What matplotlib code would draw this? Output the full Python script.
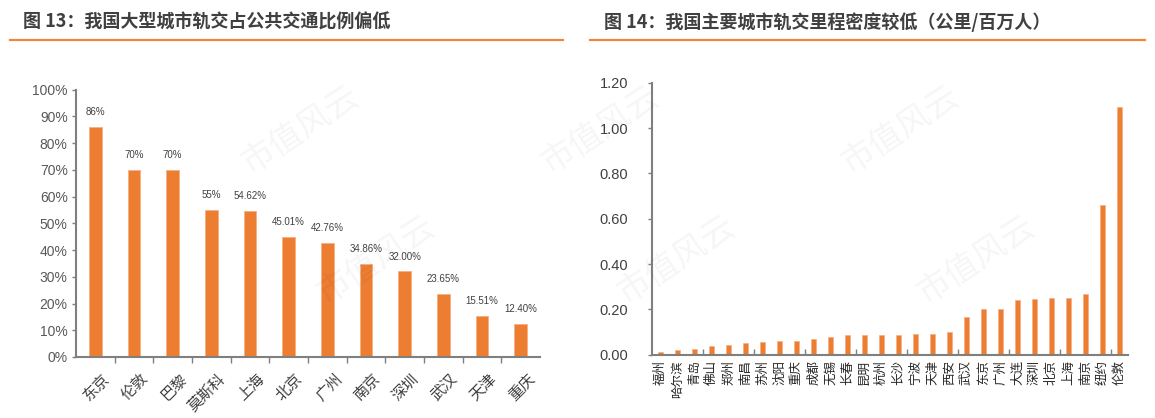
import matplotlib.pyplot as plt
from matplotlib.lines import Line2D

plt.rcParams['font.family'] = ['Liberation Sans', 'Noto Sans CJK SC', 'DejaVu Sans']

# --- data ---
share_cities = ['东京', '伦敦', '巴黎', '莫斯科', '上海', '北京', '广州', '南京', '深圳', '武汉', '天津', '重庆']
share_values = [86, 70, 70, 55, 54.62, 45.01, 42.76, 34.86, 32.00, 23.65, 15.51, 12.40]
share_labels = ['86%', '70%', '70%', '55%', '54.62%', '45.01%', '42.76%', '34.86%',
                '32.00%', '23.65%', '15.51%', '12.40%']

density_cities = ['福州', '哈尔滨', '青岛', '佛山', '郑州', '南昌', '苏州', '沈阳', '重庆', '成都',
                  '无锡', '长春', '昆明', '杭州', '长沙', '宁波', '天津', '西安', '武汉', '东京',
                  '广州', '大连', '深圳', '北京', '上海', '南京', '纽约', '伦敦']
density_values = [0.010, 0.020, 0.023, 0.039, 0.044, 0.050, 0.058, 0.061, 0.061, 0.069,
                  0.080, 0.085, 0.086, 0.086, 0.088, 0.090, 0.092, 0.100, 0.167, 0.200,
                  0.202, 0.240, 0.246, 0.252, 0.252, 0.270, 0.662, 1.094]

W, H = 1155, 418
ORANGE = '#ED7D31'
AXIS = '#7f7f7f'

fig = plt.figure(figsize=(W / 100, H / 100), dpi=100)

def px(x0, y_top, x1, y_bottom):
    return [x0 / W, 1 - y_bottom / H, (x1 - x0) / W, (y_bottom - y_top) / H]

# --- left chart ---
ax1 = fig.add_axes(px(76, 89.7, 540, 357))
x1 = range(len(share_cities))
ax1.bar(x1, share_values, width=0.32, color=ORANGE, edgecolor='#F6B083', linewidth=0.6)
for i, (v, s) in enumerate(zip(share_values, share_labels)):
    ax1.annotate(s, (i, v), xytext=(0, 7), textcoords='offset points',
                 ha='center', va='bottom', fontsize=7, color='#404040')
ax1.set_xlim(-0.5, len(share_cities) - 0.5)
ax1.set_ylim(0, 100)
ax1.set_yticks(range(0, 101, 10))
ax1.set_yticklabels([f'{v}%' for v in range(0, 101, 10)], fontsize=10, color='#595959')
ax1.set_xticks([i + 0.5 for i in range(len(share_cities) - 1)])
ax1.set_xticklabels([])
ax1.tick_params(axis='x', direction='out', length=4, color=AXIS, width=1)
ax1.tick_params(axis='y', direction='out', length=3, color=AXIS, width=1, pad=3)
for i, name in enumerate(share_cities):
    ax1.text(i + 0.15, -5, name, rotation=45, ha='right', va='top',
             rotation_mode='anchor', fontsize=11, color='#404040',
             family=['Noto Sans CJK SC', 'DejaVu Sans'])

# --- right chart ---
ax2 = fig.add_axes(px(652, 82.7, 1128, 354.7))
x2 = range(len(density_cities))
ax2.bar(x2, density_values, width=0.3, color=ORANGE, edgecolor='#F6B083', linewidth=0.5)
ax2.set_xlim(-0.5, len(density_cities) - 0.5)
ax2.set_ylim(0, 1.2)
ax2.set_yticks([0, 0.2, 0.4, 0.6, 0.8, 1.0, 1.2])
ax2.set_yticklabels([f'{v:.2f}' for v in [0, 0.2, 0.4, 0.6, 0.8, 1.0, 1.2]],
                    fontsize=10.5, color='#404040')
ax2.set_xticks([i + 0.5 for i in range(2, len(density_cities) - 1, 3)])
ax2.set_xticklabels([])
ax2.tick_params(axis='x', direction='in', length=4, color=AXIS, width=1)
ax2.tick_params(axis='y', direction='out', length=3, color=AXIS, width=1, pad=14)
for i, name in enumerate(density_cities):
    ax2.text(i, -0.025, name, rotation=90, ha='center', va='top',
             fontsize=9, color='#262626', family=['Noto Sans CJK SC', 'DejaVu Sans'])

for ax in (ax1, ax2):
    ax.set_facecolor('none')
    for side in ('top', 'right'):
        ax.spines[side].set_visible(False)
    for side in ('left', 'bottom'):
        ax.spines[side].set_color(AXIS)
        ax.spines[side].set_linewidth(1.5)

# --- titles ---
title_font = ['Noto Sans CJK SC', 'DejaVu Sans']
fig.text(23 / W, 1 - 22 / H, '图 13：我国大型城市轨交占公共交通比例偏低', fontsize=13,
         weight='bold', color='#404040', va='center', family=title_font)
fig.text(604 / W, 1 - 22 / H, '图 14：我国主要城市轨交里程密度较低（公里/百万人）', fontsize=13,
         weight='bold', color='#404040', va='center', family=title_font)
fig.add_artist(Line2D([10 / W, 563 / W], [1 - 40 / H] * 2, color='#F0883A', lw=1.6))
fig.add_artist(Line2D([590 / W, 1145 / W], [1 - 40 / H] * 2, color='#F0883A', lw=1.6))

# --- watermark (faint, kept inside the picture) ---
for row, y in enumerate([130, 260]):
    for k in range(4):
        x = 300 + 76 * row + 300 * k
        if 80 < x < 1080:
            fig.text(x / W, 1 - y / H, '市值风云', rotation=33, fontsize=24, color='#000000',
                     alpha=0.04, ha='center', va='center', family=title_font)

fig.savefig('out.png', dpi=100)
